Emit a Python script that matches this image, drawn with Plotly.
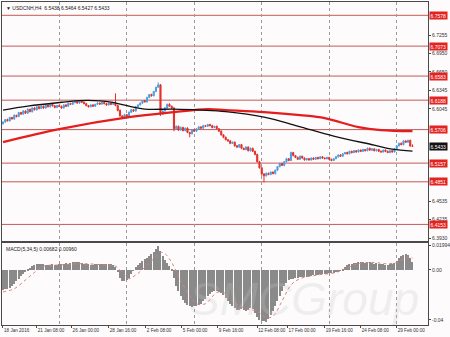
import plotly.graph_objects as go

# ---------------- data ----------------
bars = list(range(183))  # H4 bars, first visible = 18 Jan 2016

closes = [
    6.5830, 6.5870, 6.5850, 6.5905, 6.5880, 6.5940, 6.5920, 6.5985, 6.5960,
    6.6010, 6.5975, 6.6040, 6.6000, 6.6060, 6.6030, 6.6080, 6.6050,
    6.6090, 6.6060, 6.6110, 6.6080, 6.6120, 6.6095, 6.6070, 6.6100, 6.6085,
    6.6060, 6.6110, 6.6090, 6.6135, 6.6120, 6.6150, 6.6165, 6.6140, 6.6170, 6.6155,
    6.6130, 6.6100, 6.6080, 6.6110, 6.6090, 6.6120, 6.6140, 6.6125, 6.6150, 6.6130,
    6.6110, 6.6140, 6.6120, 6.6135, 6.6100,
    6.6020, 6.5930, 6.5905,
    6.5950, 6.5920, 6.5990, 6.6030, 6.6010, 6.6080, 6.6110, 6.6140,
    6.6180, 6.6160, 6.6230, 6.6280, 6.6260, 6.6330, 6.6400, 6.6440,
    6.5960,
    6.6010, 6.6060, 6.6120, 6.6090,
    6.6060, 6.5720,
    6.5760, 6.5700, 6.5740, 6.5690, 6.5730, 6.5660, 6.5640, 6.5700, 6.5680,
    6.5720, 6.5750, 6.5730, 6.5770, 6.5760, 6.5790, 6.5770, 6.5740, 6.5760, 6.5720,
    6.5680, 6.5620, 6.5580, 6.5540, 6.5520,
    6.5480, 6.5500, 6.5440,
    6.5420, 6.5460, 6.5400, 6.5380, 6.5420, 6.5360, 6.5400, 6.5350, 6.5300,
    6.5180, 6.5080, 6.4980,
    6.4950,
    6.4990, 6.4970, 6.5010, 6.4985,
    6.5040, 6.5100, 6.5150, 6.5120, 6.5180,
    6.5230, 6.5200, 6.5330, 6.5280, 6.5250,
    6.5220, 6.5270, 6.5240, 6.5210,
    6.5230, 6.5210, 6.5240, 6.5220, 6.5250, 6.5230, 6.5260, 6.5240, 6.5230, 6.5250, 6.5220,
    6.5200, 6.5230, 6.5260,
    6.5290, 6.5270, 6.5310, 6.5330, 6.5310, 6.5350, 6.5330, 6.5360, 6.5340, 6.5370, 6.5350, 6.5380,
    6.5360, 6.5400, 6.5370, 6.5390, 6.5360, 6.5380, 6.5350, 6.5340, 6.5370, 6.5350,
    6.5330, 6.5360, 6.5340,
    6.5390, 6.5440, 6.5480, 6.5460, 6.5520,
    6.5500, 6.5530, 6.5438, 6.5433,
]
first_open = 6.5800
opens = [first_open] + closes[:-1]  # FX H4 bars open at the previous close

upper_wick_pips = [
    12, 8, 15, 10, 9, 14, 7, 12, 10, 16,
    9, 13, 8, 11, 15, 7, 10, 12, 9, 14,
    8, 11, 10, 13, 9, 12, 15, 8, 10, 11,
    9, 14, 10, 8, 12, 9, 11, 15, 10, 8,
    12, 9, 13, 10, 8, 11, 14, 9, 10, 12,
    165, 12, 18, 10, 14, 9, 12, 10, 15, 11,
    9, 13, 10, 12, 15, 10, 14, 11, 9, 40,
    10, 12, 15, 10, 18, 9, 12, 14, 10, 16,
    11, 9, 13, 10, 12, 15, 9, 11, 10, 14,
    12, 9, 10, 13, 8, 11, 10, 14, 9, 12,
    10, 15, 9, 11, 13, 10, 12, 9, 14, 10,
    11, 9, 12, 10, 14, 9, 11, 13, 10, 12,
    9, 12, 10, 14, 11, 9, 13, 10, 15, 11,
    9, 12, 10, 8, 11, 14, 9, 10, 12, 9,
    11, 10, 13, 9, 12, 10, 8, 11, 14, 9,
    12, 10, 9, 13, 11, 10, 12, 9, 14, 10,
    11, 9, 12, 10, 13, 9, 11, 10, 12, 9,
    10, 12, 9, 11, 14, 10, 12, 15, 11, 13,
    10, 12, 26,
]
lower_wick_pips = [
    10, 14, 9, 12, 8, 11, 15, 9, 12, 10,
    13, 9, 11, 14, 8, 12, 10, 9, 13, 11,
    10, 12, 9, 14, 11, 8, 13, 10, 12, 9,
    11, 10, 14, 9, 12, 10, 8, 13, 11, 9,
    10, 12, 9, 14, 11, 10, 13, 9, 12, 10,
    12, 15, 10, 14, 11, 9, 12, 10, 13, 9,
    11, 10, 14, 9, 12, 10, 13, 9, 11, 10,
    30, 12, 9, 11, 10, 14, 40, 12, 15, 10,
    13, 11, 12, 60, 14, 10, 12, 9, 11, 13,
    10, 12, 9, 14, 11, 10, 13, 12, 15, 11,
    12, 14, 10, 13, 11, 12, 15, 10, 13, 11,
    14, 12, 15, 13, 12, 30, 110, 13, 11, 12,
    10, 13, 11, 12, 9, 14, 10, 12, 9, 13,
    11, 10, 12, 9, 13, 10, 11, 12, 9, 10,
    12, 9, 11, 10, 13, 11, 12, 9, 10, 12,
    9, 11, 10, 12, 9, 13, 10, 11, 9, 12,
    10, 12, 9, 11, 13, 10, 12, 9, 11, 10,
    12, 9, 11, 10, 9, 12, 10, 11, 13, 10,
    12, 11, 6,
]
PIP = 0.0001
highs = [max(o, c) + u * PIP for o, c, u in zip(opens, closes, upper_wick_pips)]
lows = [min(o, c) - d * PIP for o, c, d in zip(opens, closes, lower_wick_pips)]

# moving averages (read at sample bars)
ma_black_k = [0, 11, 27, 34, 43, 48, 56, 63, 76, 88, 99, 116, 131, 147, 165, 173, 182]
ma_black_v = [6.6026, 6.6091, 6.6157, 6.6181, 6.6178, 6.6157, 6.6091, 6.6042, 6.6042,
              6.6026, 6.6001, 6.5911, 6.5763, 6.5599, 6.5452, 6.5386, 6.5353]
ma_red_k = [0, 25, 56, 76, 91, 99, 116, 132, 143, 158, 168, 182]
ma_red_v = [6.5501, 6.5714, 6.5911, 6.5993, 6.6042, 6.6026, 6.5993, 6.5944,
            6.5895, 6.5747, 6.5698, 6.5681]

# horizontal levels
levels = [6.7578, 6.7073, 6.6583, 6.6188, 6.5706, 6.5157, 6.4851, 6.4153]
last_price = 6.5433
price_ticks = [6.7255, 6.6950, 6.6650, 6.6345, 6.6045, 6.4535, 6.4235, 6.3930]
price_tick_text = ["6.7255", "6.6950", "6.6650", "6.6345", "6.6045", "6.4535", "6.4235", "6.3930"]

# MACD(5,34,5)
macd = [
    -0.0160, -0.0155, -0.0150, -0.0140, -0.0125, -0.0110, -0.0090, -0.0070, -0.0050, -0.0030, -0.0010,
    0.0010, 0.0020, 0.0030, 0.0040, 0.0050, 0.0052,
    0.0048, 0.0045, 0.0040, 0.0038, 0.0042, 0.0045, 0.0040, 0.0043, 0.0048, 0.0050, 0.0052,
    0.0055, 0.0050, 0.0058, 0.0062, 0.0065, 0.0068, 0.0063, 0.0058, 0.0052, 0.0048, 0.0045,
    0.0040, 0.0042, 0.0048, 0.0052, 0.0050, 0.0048, 0.0046, 0.0050, 0.0048, 0.0045, 0.0040,
    0.0025, -0.0010, -0.0060, -0.0085,
    -0.0090, -0.0080, -0.0060, -0.0035, -0.0005, 0.0025,
    0.0040, 0.0060, 0.0075, 0.0090, 0.0100, 0.0115, 0.0130, 0.0145, 0.0170, 0.0190,
    0.0150, 0.0110, 0.0080, 0.0060, 0.0035, 0.0010,
    -0.0060, -0.0130, -0.0170, -0.0205, -0.0240, -0.0265, -0.0280, -0.0290, -0.0292, -0.0285,
    -0.0288, -0.0280, -0.0270,
    -0.0250, -0.0230, -0.0210, -0.0190, -0.0175, -0.0165, -0.0165, -0.0172, -0.0185, -0.0200,
    -0.0220, -0.0250, -0.0270, -0.0290, -0.0305, -0.0318, -0.0322, -0.0315, -0.0318, -0.0325, -0.0320,
    -0.0300, -0.0310, -0.0345, -0.0375, -0.0398, -0.0410, -0.0405, -0.0412, -0.0390, -0.0360,
    -0.0330, -0.0290, -0.0250, -0.0210, -0.0170, -0.0130, -0.0100, -0.0080, -0.0070,
    -0.0068, -0.0062, -0.0060, -0.0058, -0.0055, -0.0057, -0.0052, -0.0050, -0.0045, -0.0043,
    -0.0042, -0.0040, -0.0035, -0.0033, -0.0030, -0.0031, -0.0025, -0.0022, -0.0020, -0.0018,
    -0.0012, -0.0006,
    0.0010, 0.0028, 0.0040, 0.0048, 0.0052, 0.0058, 0.0060, 0.0062, 0.0068, 0.0063,
    0.0060, 0.0066, 0.0062, 0.0058, 0.0052, 0.0056, 0.0050, 0.0048, 0.0045, 0.0040,
    0.0042, 0.0048, 0.0052, 0.0060, 0.0072,
    0.0095, 0.0110, 0.0120, 0.0128, 0.0118, 0.0100, 0.0068,
]
sig_k = [0, 5, 10, 14, 18, 25, 35, 45, 50, 53, 56, 59, 63, 67, 70, 72, 75, 78, 82, 86,
         90, 95, 98, 102, 108, 113, 117, 120, 124, 128, 132, 140, 148, 152, 158, 165,
         170, 175, 180, 182]
sig_v = [-0.0175, -0.0150, -0.0080, -0.0020, 0.0030, 0.0040, 0.0050, 0.0040, 0.0030, -0.0020,
         -0.0070, -0.0040, 0.0020, 0.0090, 0.0140, 0.0130, 0.0060, -0.0050, -0.0180, -0.0270,
         -0.0270, -0.0180, -0.0180, -0.0250, -0.0310, -0.0330, -0.0380, -0.0370, -0.0250, -0.0120,
         -0.0070, -0.0040, -0.0020, 0.0010, 0.0050, 0.0060, 0.0050, 0.0060, 0.0105, 0.0096]
macd_ticks = [0.01994, 0.0, -0.04]
macd_tick_text = ["0.01994", "0.00", "-0.04"]

# time axis
time_tick_k = [0, 15, 30.5, 47, 63.5, 79.5, 95.5, 113, 126.5, 143, 159, 175]
time_tick_text = ["18 Jan 2016", "21 Jan 08:00", "26 Jan 00:00", "28 Jan 16:00", "2 Feb 08:00",
                  "5 Feb 00:00", "9 Feb 16:00", "12 Feb 08:00", "17 Feb 00:00", "19 Feb 16:00",
                  "24 Feb 08:00", "29 Feb 00:00"]
week_grid_k = [25, 55, 85, 115, 145, 175]

# ---------------- figure ----------------
FONT = "Liberation Sans"
BULL = "#4f9ddf"
BEAR = "#e2302a"
LEVEL = "#c45a57"
FRAME = "#4a4a4a"

fig = go.Figure()

fig.add_trace(go.Candlestick(
    x=bars, open=opens, high=highs, low=lows, close=closes,
    increasing=dict(line=dict(color=BULL, width=1), fillcolor=BULL),
    decreasing=dict(line=dict(color=BEAR, width=1), fillcolor=BEAR),
    whiskerwidth=0, showlegend=False, hoverinfo="skip", xaxis="x", yaxis="y"))

fig.add_trace(go.Scatter(x=ma_red_k, y=ma_red_v, mode="lines",
                         line=dict(color="#e41e1e", width=2.2, shape="spline"),
                         showlegend=False, hoverinfo="skip", xaxis="x", yaxis="y"))
fig.add_trace(go.Scatter(x=ma_black_k, y=ma_black_v, mode="lines",
                         line=dict(color="#111111", width=1.3, shape="spline"),
                         showlegend=False, hoverinfo="skip", xaxis="x", yaxis="y"))

fig.add_trace(go.Bar(x=bars, y=macd, marker=dict(color="#8a8a8a", line=dict(width=0)),
                     width=0.55, showlegend=False, hoverinfo="skip", xaxis="x2", yaxis="y2"))
fig.add_trace(go.Scatter(x=sig_k, y=sig_v, mode="lines",
                         line=dict(color="#d98080", width=1, dash="dot", shape="spline"),
                         showlegend=False, hoverinfo="skip", xaxis="x2", yaxis="y2"))

shapes = []
for lv in levels:
    shapes.append(dict(type="line", xref="x domain", yref="y", x0=0, x1=1, y0=lv, y1=lv,
                       line=dict(color=LEVEL, width=1), layer="below"))

annotations = []
for lv in levels:
    annotations.append(dict(x=1, xref="paper", y=lv, yref="y", xanchor="left", yanchor="middle",
                            xshift=1, text="%.4f" % lv, showarrow=False,
                            font=dict(family=FONT, size=5, color="white"),
                            bgcolor="#e3231f", borderpad=0.6))
annotations.append(dict(x=1, xref="paper", y=last_price, yref="y", xanchor="left", yanchor="middle",
                        xshift=1, text="%.4f" % last_price, showarrow=False,
                        font=dict(family=FONT, size=5, color="white"),
                        bgcolor="#111111", borderpad=0.6))
annotations.append(dict(x=0, xref="paper", y=1, yref="paper", xanchor="left", yanchor="top",
                        xshift=2, yshift=-1, showarrow=False,
                        text="▼ USDCNH,H4  6.5438 6.5464 6.5427 6.5433",
                        font=dict(family=FONT, size=5, color="#222222")))
annotations.append(dict(x=0, xref="paper", y=0.254, yref="paper", xanchor="left", yanchor="top",
                        xshift=2, yshift=-1, showarrow=False,
                        text="MACD(5,34,5) 0.00682 0.00960",
                        font=dict(family=FONT, size=5, color="#222222")))
annotations.append(dict(x=0.71, xref="paper", y=-0.005, yref="paper", xanchor="center",
                        yanchor="bottom", showarrow=False, text="<i>SMCGroup</i>",
                        font=dict(family=FONT, size=46, color="rgba(200,200,200,0.25)")))

xrange = [-0.44, 188.9]
common_x = dict(range=xrange, showgrid=False, zeroline=False, showline=True, mirror=True,
                linecolor=FRAME, linewidth=1, automargin=False,
                minor=dict(tickmode="array", tickvals=week_grid_k, showgrid=True,
                           gridcolor="#9a9a9a", griddash="dot", gridwidth=1, ticks=""))

fig.update_layout(
    width=450, height=337,
    margin=dict(l=2, r=22, t=2, b=12),
    paper_bgcolor="#fdfbfb", plot_bgcolor="#fdfbfb",
    showlegend=False,
    bargap=0,
    shapes=shapes, annotations=annotations,
    xaxis=dict(domain=[0, 1], anchor="y", showticklabels=False, rangeslider=dict(visible=False),
               ticks="", **common_x),
    xaxis2=dict(domain=[0, 1], anchor="y2", matches="x", tickmode="array",
                tickvals=time_tick_k, ticktext=time_tick_text, ticks="outside", ticklen=2,
                tickcolor=FRAME, ticklabelposition="outside right", tickangle=0,
                tickfont=dict(family=FONT, size=4.6, color="#333333"),
                rangeslider=dict(visible=False), **common_x),
    yaxis=dict(domain=[0.26, 1], anchor="x", side="right", range=[6.3881, 6.7796],
               tickmode="array", tickvals=price_ticks, ticktext=price_tick_text,
               ticks="outside", ticklen=2, tickcolor=FRAME, automargin=False,
               tickfont=dict(family=FONT, size=5, color="#333333"),
               showgrid=False, zeroline=False, showline=True, mirror=True,
               linecolor=FRAME, linewidth=1),
    yaxis2=dict(domain=[0, 0.254], anchor="x2", side="right", range=[-0.044, 0.0216],
                tickmode="array", tickvals=macd_ticks, ticktext=macd_tick_text,
                ticks="outside", ticklen=2, tickcolor=FRAME, automargin=False,
                tickfont=dict(family=FONT, size=5, color="#333333"),
                showgrid=False, zeroline=False, showline=True, mirror=True,
                linecolor=FRAME, linewidth=1),
)

fig.write_html("out.html")
